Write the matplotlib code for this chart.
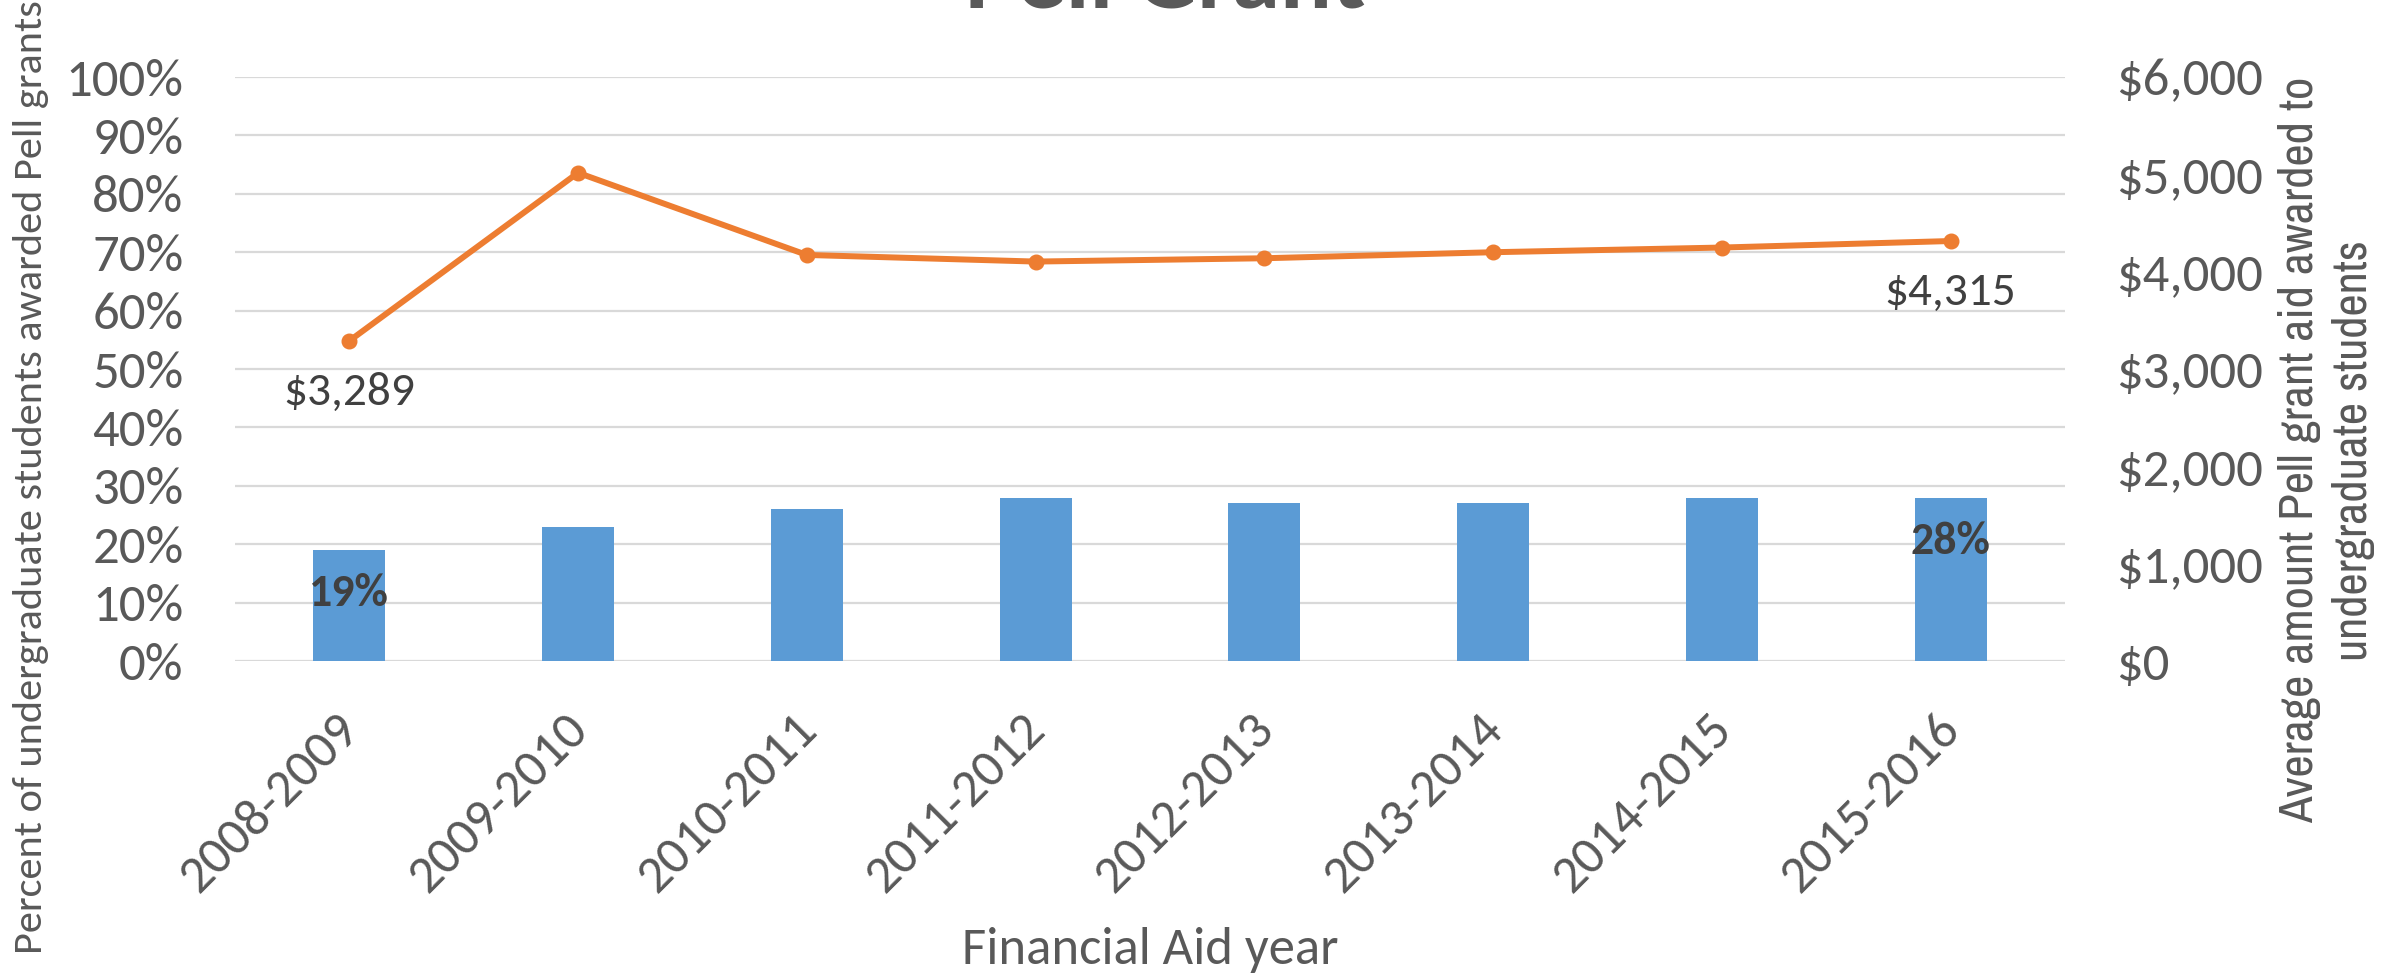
import numpy as np
import matplotlib
matplotlib.use("Agg")
import matplotlib.pyplot as plt
from matplotlib.ticker import FuncFormatter
from matplotlib.transforms import ScaledTranslation

# Pell Grant data
years = ["2008-2009", "2009-2010", "2010-2011", "2011-2012",
         "2012-2013", "2013-2014", "2014-2015", "2015-2016"]
pct_awarded = [19, 23, 26, 28, 27, 27, 28, 28]
avg_amount = [3289, 5016, 4172, 4104, 4138, 4200, 4248, 4315]

bar_color = "#5B9BD5"
line_color = "#ED7D31"
grid_color = "#D9D9D9"
text_color = "#595959"
body = ["Carlito", "Lato", "DejaVu Sans"]
narrow = ["Archivo Narrow", "Roboto Condensed", "Liberation Sans", "DejaVu Sans"]

fig = plt.figure(figsize=(24.02, 9.76), dpi=100)
ax = fig.add_axes([0.0978, 0.3227, 0.7619, 0.5984])
ax2 = ax.twinx()

x = np.arange(len(years))
ax.bar(x, pct_awarded, width=0.315, color=bar_color, zorder=2)
ax.set_xlim(-0.5, len(years) - 0.5)
ax.set_ylim(0, 100)
ax.set_yticks(np.arange(0, 101, 10))
ax.yaxis.set_major_formatter(FuncFormatter(lambda v, p: f"{v:.0f}%"))
ax.grid(axis="y", color=grid_color, linewidth=1.6, zorder=0)
ax.set_axisbelow(True)

ax2.plot(x, avg_amount, color=line_color, linewidth=4.3, marker="o",
         markersize=10.5, zorder=3)
ax2.set_ylim(0, 6000)
ax2.set_yticks(np.arange(0, 6001, 1000))
ax2.yaxis.set_major_formatter(FuncFormatter(lambda v, p: f"${v:,.0f}"))

for a in (ax, ax2):
    for s in a.spines.values():
        s.set_visible(False)
    a.tick_params(length=0)

ax.set_xticks(x)
ax.set_xticklabels(years, rotation=45, ha="right", va="top",
                   rotation_mode="anchor", fontsize=38, color=text_color,
                   family=body)
ax.tick_params(axis="x", pad=32)
shift = ScaledTranslation(-0.14, 0, fig.dpi_scale_trans)
for t in ax.get_xticklabels():
    t.set_transform(t.get_transform() + shift)
ax.tick_params(axis="y", labelsize=38, labelcolor=text_color, pad=37)
for t in ax.get_yticklabels():
    t.set_family(body)
ax2.tick_params(axis="y", labelsize=38, labelcolor=text_color, pad=37)
for t in ax2.get_yticklabels():
    t.set_family(body)

ax.set_xlabel("Financial Aid year", fontsize=38, color=text_color,
              family=body, va="center")
ax.xaxis.set_label_coords(0.5, -0.495)
ax.set_ylabel("Percent of undergraduate students awarded Pell grants",
              fontsize=30.5, color=text_color, family=body, va="center")
ax.yaxis.set_label_coords(-0.1115, 0.315)
ax2.set_ylabel("Average amount Pell grant aid awarded to\nundergraduate students",
               fontsize=35, color=text_color, family=narrow, va="center",
               rotation=90, multialignment="center", linespacing=1.3)
ax2.yaxis.set_label_coords(1.143, 0.361)

# data labels
for i in (0, len(years) - 1):
    ax.annotate(f"{pct_awarded[i]}%", (x[i], pct_awarded[i]),
                xytext=(0, -31), textcoords="offset points",
                ha="center", va="center", fontsize=33, fontweight="bold",
                color="#404040", family=body, zorder=5)
    ax2.annotate(f"${avg_amount[i]:,}", (x[i], avg_amount[i]),
                 xytext=(0, -37), textcoords="offset points",
                 ha="center", va="center", fontsize=34,
                 color="#404040", family=body, zorder=5)

fig.text(0.485, 0.992, "Pell Grant", ha="center", va="baseline",
         fontsize=70, fontweight="bold", color=text_color, family=body)

fig.savefig("out.png", dpi=100)
